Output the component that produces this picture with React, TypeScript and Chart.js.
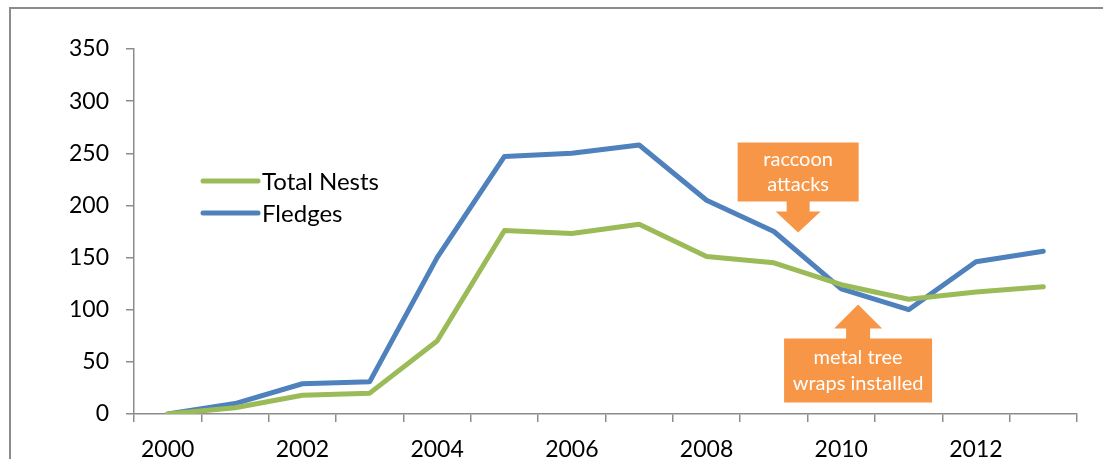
import React, { useEffect, useRef } from 'react';
import { Chart, registerables } from 'chart.js';

Chart.register(...registerables);

const years = ['2000', '2001', '2002', '2003', '2004', '2005', '2006', '2007', '2008', '2009', '2010', '2011', '2012', '2013'];
const totalNests = [0, 6, 18, 20, 70, 176, 173, 182, 151, 145, 124, 110, 117, 122];
const fledges = [0, 10, 29, 31, 150, 247, 250, 258, 205, 175, 120, 100, 146, 156];
const seriesNames = ['Total Nests', 'Fledges'];
const seriesColors = ['#9BBB59', '#4F81BD'];
const yMin = 0;
const yMax = 350;
const yStep = 50;
const annotationTexts = [['raccoon', 'attacks'], ['metal tree', 'wraps installed']];
// anchor (category index, value) of each arrow tip
const annotationAnchors = [
  { x: 9.36, y: 174, dir: 'down' },
  { x: 10.25, y: 105, dir: 'up' },
];

const W = 1103;
const H = 480;
const AXIS_COLOR = '#8C8C8C';
const ORANGE = '#F79646';
const FONT = 'Lato, "Open Sans", sans-serif';

const decorPlugin = {
  id: 'decor',
  beforeDraw(chart: any) {
    const ctx = chart.ctx;
    ctx.save();
    ctx.fillStyle = '#ffffff';
    ctx.fillRect(0, 0, chart.width, chart.height);
    ctx.strokeStyle = AXIS_COLOR;
    ctx.lineWidth = 2;
    ctx.beginPath();
    ctx.moveTo(10, chart.height + 5);
    ctx.lineTo(10, 8);
    ctx.lineTo(chart.width + 5, 8);
    ctx.stroke();
    ctx.restore();
  },
  afterDraw(chart: any) {
    const ctx = chart.ctx;
    const xs = chart.scales.x;
    const ys = chart.scales.y;
    ctx.save();
    // legend
    const lx0 = 203, lx1 = 258;
    const rows = [181, 213];
    seriesNames.forEach((name, i) => {
      ctx.strokeStyle = seriesColors[i];
      ctx.lineWidth = 5;
      ctx.lineCap = 'round';
      ctx.beginPath();
      ctx.moveTo(lx0, rows[i]);
      ctx.lineTo(lx1, rows[i]);
      ctx.stroke();
      ctx.fillStyle = '#000';
      ctx.font = '24px ' + FONT;
      ctx.textBaseline = 'middle';
      ctx.textAlign = 'left';
      ctx.fillText(name, 262, rows[i] + 1);
    });
    // annotations
    annotationAnchors.forEach((a, i) => {
      const tx = xs.getPixelForValue(a.x);
      const ty = ys.getPixelForValue(a.y);
      ctx.fillStyle = ORANGE;
      ctx.beginPath();
      let bx, by, bw, bh;
      if (a.dir === 'down') {
        const headH = 21, headW = 45, shaftW = 23, shaftL = 10;
        bw = 121; bh = 59;
        const hb = ty - headH;
        const sb = hb - shaftL;
        bx = tx - bw / 2; by = sb - bh;
        ctx.moveTo(tx, ty);
        ctx.lineTo(tx - headW / 2, hb);
        ctx.lineTo(tx - shaftW / 2, hb);
        ctx.lineTo(tx - shaftW / 2, sb);
        ctx.lineTo(bx, sb);
        ctx.lineTo(bx, by);
        ctx.lineTo(bx + bw, by);
        ctx.lineTo(bx + bw, sb);
        ctx.lineTo(tx + shaftW / 2, sb);
        ctx.lineTo(tx + shaftW / 2, hb);
        ctx.lineTo(tx + headW / 2, hb);
      } else {
        const headH = 24, headW = 48, shaftW = 24, shaftL = 10;
        bw = 148; bh = 64;
        const hb = ty + headH;
        const sb = hb + shaftL;
        bx = tx - bw / 2; by = sb;
        ctx.moveTo(tx, ty);
        ctx.lineTo(tx - headW / 2, hb);
        ctx.lineTo(tx - shaftW / 2, hb);
        ctx.lineTo(tx - shaftW / 2, sb);
        ctx.lineTo(bx, sb);
        ctx.lineTo(bx, sb + bh);
        ctx.lineTo(bx + bw, sb + bh);
        ctx.lineTo(bx + bw, sb);
        ctx.lineTo(tx + shaftW / 2, sb);
        ctx.lineTo(tx + shaftW / 2, hb);
        ctx.lineTo(tx + headW / 2, hb);
      }
      ctx.closePath();
      ctx.fill();
      ctx.fillStyle = '#ffffff';
      ctx.font = '20px ' + FONT;
      ctx.textAlign = 'center';
      ctx.textBaseline = 'middle';
      const lines = annotationTexts[i];
      const cy = by + bh / 2;
      const lh = 25.5;
      lines.forEach((t, j) => {
        ctx.fillText(t, bx + bw / 2, cy + (j - (lines.length - 1) / 2) * lh);
      });
    });
    ctx.restore();
  },
};

export default function App() {
  const ref = useRef<HTMLCanvasElement | null>(null);
  useEffect(() => {
    if (!ref.current) return;
    const chart = new Chart(ref.current, {
      type: 'line',
      data: {
        labels: years,
        datasets: [
          {
            label: seriesNames[0],
            data: totalNests,
            borderColor: seriesColors[0],
            backgroundColor: seriesColors[0],
            borderWidth: 5,
            pointRadius: 0,
            tension: 0,
            borderJoinStyle: 'round',
            borderCapStyle: 'round',
          },
          {
            label: seriesNames[1],
            data: fledges,
            borderColor: seriesColors[1],
            backgroundColor: seriesColors[1],
            borderWidth: 5,
            pointRadius: 0,
            tension: 0,
            borderJoinStyle: 'round',
            borderCapStyle: 'round',
          },
        ],
      },
      options: {
        animation: false,
        responsive: false,
        maintainAspectRatio: false,
        devicePixelRatio: 1,
        layout: { padding: { left: 0, right: 26, top: 49, bottom: 0 } },
        plugins: { legend: { display: false }, tooltip: { enabled: false } },
        scales: {
          x: {
            type: 'category',
            offset: true,
            grid: { display: true, drawOnChartArea: false, drawTicks: true, tickLength: 8, color: AXIS_COLOR, lineWidth: 1.5, offset: true },
            border: { display: true, color: AXIS_COLOR, width: 1.5 },
            ticks: {
              autoSkip: false,
              maxRotation: 0,
              padding: 14,
              color: '#000',
              font: { family: FONT, size: 23 },
              callback: (_v: any, i: number) => (i % 2 === 0 ? years[i] : ''),
            },
            afterFit: (s: any) => { s.height = H - 414; },
          },
          y: {
            min: yMin,
            max: yMax,
            grid: { display: true, drawOnChartArea: false, drawTicks: true, tickLength: 8, color: AXIS_COLOR, lineWidth: 1.5 },
            border: { display: true, color: AXIS_COLOR, width: 1.5 },
            ticks: { stepSize: yStep, padding: 17, color: '#000', font: { family: FONT, size: 23 } },
            afterFit: (s: any) => { s.width = 134; },
          },
        },
      },
      plugins: [decorPlugin],
    } as any);
    return () => chart.destroy();
  }, []);
  return (
    <div style={{ position: 'fixed', left: 0, top: 0, width: W, height: 459, overflow: 'hidden', background: '#fff' }}>
      <canvas ref={ref} width={W} height={H} style={{ display: 'block', width: W, height: H }} />
    </div>
  );
}
